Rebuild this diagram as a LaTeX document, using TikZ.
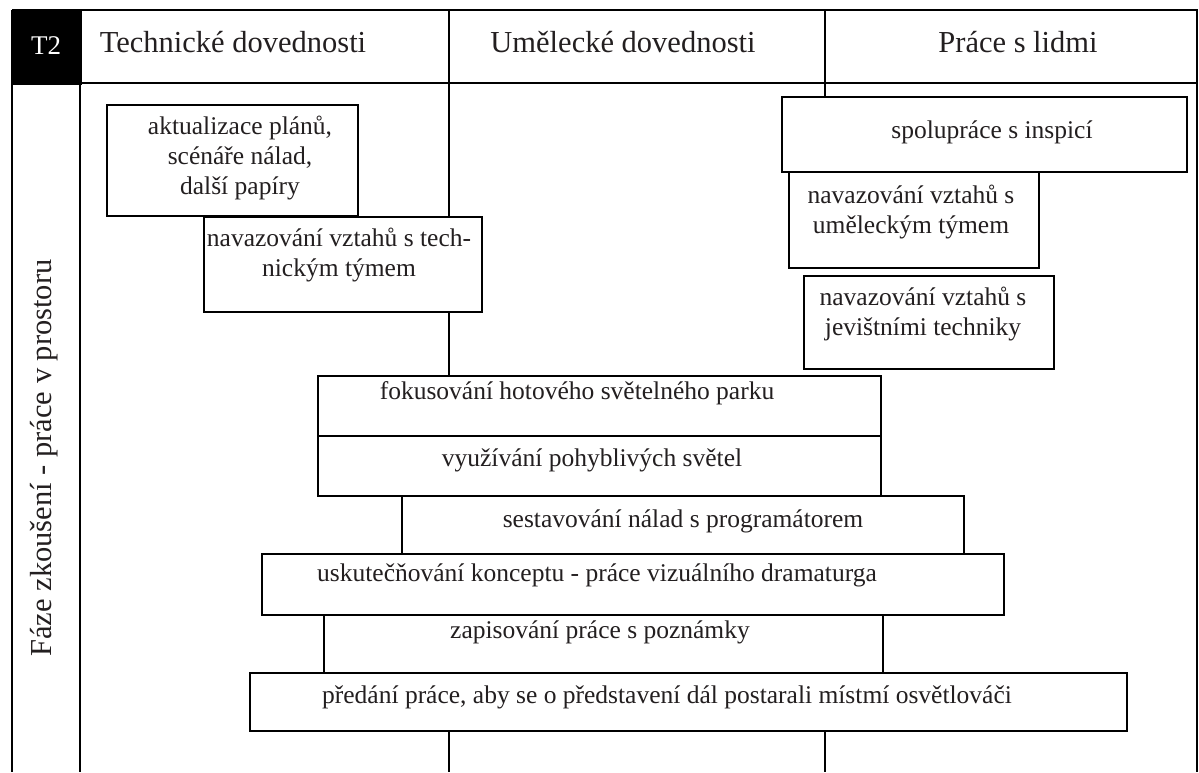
\documentclass[tikz,border=0pt]{standalone}
\usepackage{fontspec}
\setmainfont{Liberation Serif}
\definecolor{ink}{HTML}{231F20}
\begin{document}
\begin{tikzpicture}[x=1pt,y=-1pt,
  frame/.style={line width=2pt, draw=black},
  box/.style={draw=black, line width=2pt, fill=white, rectangle, inner sep=0pt, anchor=north west},
  txt/.style={font=\fontsize{25.5}{30}\selectfont, text=ink, align=center, anchor=base, inner sep=0pt},
  head/.style={font=\fontsize{30.5}{36}\selectfont, text=ink, anchor=base, inner sep=0pt}]
\useasboundingbox (0,0) rectangle (1199,772);
% frame
\coordinate (tl) at (12,10);
\coordinate (tr) at (1197,10);
\coordinate (bl) at (12,772);
\coordinate (br) at (1197,772);
\coordinate (hl) at (12,83);
\coordinate (hr) at (1197,83);
\coordinate (c0t) at (80,10);
\coordinate (c0b) at (80,772);
\coordinate (c1t) at (449,10);
\coordinate (c1b) at (449,772);
\coordinate (c2t) at (825,10);
\coordinate (c2b) at (825,772);
\node[fill=black, draw=black, line width=2pt, inner sep=0pt, minimum width=68pt, minimum height=73pt, anchor=north west] (t2) at (tl) {};
\node[font=\fontsize{27}{32}\selectfont, text=white, anchor=base, inner sep=0pt] (t2t) at (46,54) {T2};
\draw[frame] (tl) -- (tr) -- (br);
\draw[frame] (tl) -- (bl);
\draw[frame] (hl) -- (hr);
\draw[frame] (c0t) -- (c0b);
% headers
\node[head] (h1) at (233,52) {Technické dovednosti};
\node[head] (h2) at (623,52) {Umělecké dovednosti};
\node[head] (h3) at (1018,52) {Práce s lidmi};
\node[head, rotate=90] (phase) at (51,458) {Fáze zkoušení - práce v prostoru};
% boxes
\node[box, minimum width=251pt, minimum height=111pt] (b1) at (106,104) {};
\node[box, minimum width=278pt, minimum height=95pt] (b2) at (203,216) {};
\node[box, minimum width=405pt, minimum height=75pt] (b3) at (781,96) {};
\node[box, minimum width=250pt, minimum height=96pt] (b4) at (788,171) {};
\node[box, minimum width=250pt, minimum height=93pt] (b5) at (803,275) {};
\node[box, minimum width=563pt, minimum height=60pt] (b6) at (317,375) {};
\node[box, minimum width=563pt, minimum height=60pt] (b7) at (317,435) {};
\node[box, minimum width=562pt, minimum height=58pt] (b8) at (401,495) {};
\node[box, minimum width=742pt, minimum height=61pt] (b9) at (261,553) {};
\node[box, minimum width=559pt, minimum height=58pt] (b10) at (323,614) {};
\node[box, minimum width=877pt, minimum height=58pt] (b11) at (249,672) {};
% column dividers
\draw[frame] (c1t) -- (c1t |- b2.north);
\draw[frame] (c1t |- b2.south) -- (c1t |- b6.north);
\draw[frame] (c1t |- b11.south) -- (c1b);
\draw[frame] (c2t) -- (c2t |- b3.north);
\draw[frame] (c2t |- b11.south) -- (c2b);
% texts (anchor=base is the baseline of the last line)
\node[txt] (b1t) at (240,194) {aktualizace plánů,\\scénáře nálad,\\další papíry};
\node[txt] (b2t) at (339,276) {navazování vztahů s tech-\\nickým týmem};
\node[txt] (b3t) at (992,138) {spolupráce s inspicí};
\node[txt] (b4t) at (911,233) {navazování vztahů s\\uměleckým týmem};
\node[txt] (b5t) at (923,335) {navazování vztahů s\\jevištními techniky};
\node[txt] (b6t) at (577,399) {fokusování hotového světelného parku};
\node[txt] (b7t) at (592,466) {využívání pohyblivých světel};
\node[txt] (b8t) at (683,527) {sestavování nálad s programátorem};
\node[txt] (b9t) at (597,581) {uskutečňování konceptu - práce vizuálního dramaturga};
\node[txt] (b10t) at (600,638) {zapisování práce s poznámky};
\node[txt] (b11t) at (667,703) {předání práce, aby se o představení dál postarali místmí osvětlováči};
\end{tikzpicture}
\end{document}
